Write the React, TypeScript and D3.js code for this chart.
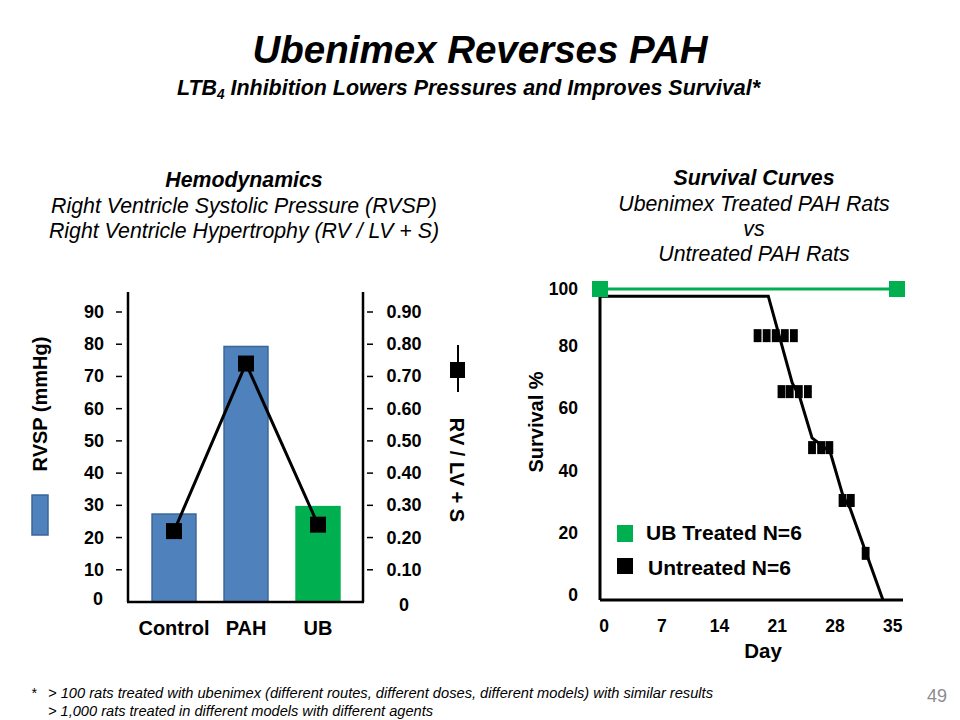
import React from "react";
import * as d3 from "d3";

// ---------- Data ----------
const categories = ["Control", "PAH", "UB"];
const rvspValues = [27.3, 79.3, 29.6]; // mmHg (bars)
const rvRatio = [0.22, 0.74, 0.24]; // RV / LV + S (squares)
const barColors = ["#4f81bd", "#4f81bd", "#00b050"];
const leftTicks = [0, 10, 20, 30, 40, 50, 60, 70, 80, 90];
const rightTicks = [0, 0.1, 0.2, 0.3, 0.4, 0.5, 0.6, 0.7, 0.8, 0.9];

const survivalTicksY = [0, 20, 40, 60, 80, 100];
const dayTicks = [0, 7, 14, 21, 28, 35];
const treatedDays = [0, 36];
const treatedSurvival = [100, 100];
const untreatedDays = [0, 0, 20.4, 23.3, 24.2, 25.7, 27.9, 29.5, 30.3, 34.3];
const untreatedSurvival = [0, 97.7, 97.7, 69.8, 65.3, 52.1, 47.6, 33.1, 29.6, 0];
// censor / death marker rows
const markerRowSurvival = [85, 67, 49, 32, 15];
const markerRowDays = [
  [19.1, 20.2, 21.3, 22.4, 23.5],
  [22.0, 23.0, 24.1, 25.2],
  [25.7, 26.8, 27.8],
  [29.4, 30.4],
  [32.2],
];

const GREEN = "#00b050";
const FONT = "'Liberation Sans', Arial, Helvetica, sans-serif";
const NARROW = "'Liberation Sans Narrow', 'Arial Narrow', 'Liberation Sans', sans-serif";

export default function App() {
  // ---- Left chart scales ----
  const xL = d3
    .scaleBand<string>()
    .domain(categories)
    .range([138, 354])
    .paddingInner(0.39)
    .paddingOuter(0.195);
  const yL = d3.scaleLinear().domain([0, 90]).range([602, 312]);
  const yR = d3.scaleLinear().domain([0, 0.9]).range([602, 312]);
  const axL = 128;
  const axR = 363;

  const ratioLine = d3
    .line<number>()
    .x((_, i) => (xL(categories[i]) as number) + xL.bandwidth() / 2)
    .y((d) => yR(d));

  // ---- Right chart scales ----
  const xS = d3.scaleLinear().domain([0, 36]).range([600, 897]);
  const yS = d3.scaleLinear().domain([0, 100]).range([600, 289]);
  const survLine = d3
    .line<number>()
    .x((_, i) => xS(untreatedDays[i]))
    .y((d) => yS(d));
  const treatedLine = d3
    .line<number>()
    .x((_, i) => xS(treatedDays[i]))
    .y((d) => yS(d));

  const markerW = xS(1.07) - xS(0) - 1;
  const markerH = 13;

  return (
    <svg
      width={960}
      height={720}
      style={{ position: "absolute", left: 0, top: 0, background: "#fff" }}
      fontFamily={FONT}
    >
      <rect x={0} y={0} width={960} height={720} fill="#fff" />
      {/* Titles */}
      <text x={480} y={63} textAnchor="middle" fontSize={38.5} fontWeight="bold" fontStyle="italic">
        Ubenimex Reverses PAH
      </text>
      <text
        x={177}
        y={95}
        fontSize={22}
        fontWeight="bold"
        fontStyle="italic"
        textLength={583}
        lengthAdjust="spacingAndGlyphs"
      >
        LTB
        <tspan fontSize={14} dy={4}>4</tspan>
        <tspan dy={-4}> Inhibition Lowers Pressures and Improves Survival*</tspan>
      </text>

      {/* Left headings */}
      <text x={244} y={187} textAnchor="middle" fontSize={21.3} fontWeight="bold" fontStyle="italic">
        Hemodynamics
      </text>
      <text x={244} y={213} textAnchor="middle" fontSize={21.3} fontStyle="italic">
        Right Ventricle Systolic Pressure (RVSP)
      </text>
      <text x={244} y={238} textAnchor="middle" fontSize={21.3} fontStyle="italic">
        Right Ventricle Hypertrophy (RV / LV + S)
      </text>

      {/* Right headings */}
      <text x={754} y={185} textAnchor="middle" fontSize={21.3} fontWeight="bold" fontStyle="italic">
        Survival Curves
      </text>
      <text x={754} y={211} textAnchor="middle" fontSize={21.3} fontStyle="italic">
        Ubenimex Treated PAH Rats
      </text>
      <text x={754} y={236} textAnchor="middle" fontSize={21.3} fontStyle="italic">
        vs
      </text>
      <text x={754} y={261} textAnchor="middle" fontSize={21.3} fontStyle="italic">
        Untreated PAH Rats
      </text>

      {/* ---------- Left chart ---------- */}
      {categories.map((c, i) => (
        <rect
          key={c}
          x={xL(c)}
          y={yL(rvspValues[i])}
          width={xL.bandwidth()}
          height={yL(0) - yL(rvspValues[i])}
          fill={barColors[i]}
          stroke={i === 2 ? GREEN : "#3c6696"}
          strokeWidth={1.5}
        />
      ))}
      {/* axes */}
      <line x1={axL} x2={axL} y1={yL(0)} y2={292} stroke="#000" strokeWidth={2.5} />
      <line x1={axR} x2={axR} y1={yL(0)} y2={292} stroke="#000" strokeWidth={2.5} />
      <line x1={axL - 1} x2={axR + 1} y1={yL(0)} y2={yL(0)} stroke="#000" strokeWidth={2.5} />
      {leftTicks.map((t) => (
        <g key={"lt" + t}>
          <text
            x={t === 0 ? 98 : 104}
            y={t === 0 ? yL(t) + 3 : yL(t) + 6}
            textAnchor={t === 0 ? "middle" : "end"}
            fontSize={18}
            fontWeight="bold"
          >
            {t}
          </text>
          {t !== 0 && (
            <line x1={116} x2={122} y1={yL(t)} y2={yL(t)} stroke="#000" strokeWidth={1.5} />
          )}
        </g>
      ))}
      {rightTicks.map((t) => (
        <g key={"rt" + t}>
          <text
            x={404}
            y={t === 0 ? yR(t) + 9 : yR(t) + 6}
            textAnchor="middle"
            fontSize={18}
            fontWeight="bold"
          >
            {t === 0 ? "0" : d3.format(".2f")(t)}
          </text>
          {t !== 0 && (
            <line x1={367} x2={373} y1={yR(t)} y2={yR(t)} stroke="#000" strokeWidth={1.5} />
          )}
        </g>
      ))}
      {/* ratio line + squares */}
      <path d={ratioLine(rvRatio) || ""} fill="none" stroke="#000" strokeWidth={3} />
      {rvRatio.map((v, i) => (
        <rect
          key={"sq" + i}
          x={(xL(categories[i]) as number) + xL.bandwidth() / 2 - 8}
          y={yR(v) - 8}
          width={16}
          height={16}
          fill="#000"
        />
      ))}
      {categories.map((c) => (
        <text
          key={"cl" + c}
          x={(xL(c) as number) + xL.bandwidth() / 2}
          y={635}
          textAnchor="middle"
          fontSize={20}
          fontWeight="bold"
        >
          {c}
        </text>
      ))}
      {/* left axis title + legend swatch */}
      <text
        transform="translate(47,404) rotate(-90)"
        textAnchor="middle"
        fontSize={20}
        fontWeight="bold"
      >
        RVSP (mmHg)
      </text>
      <rect x={32} y={495} width={16} height={40} fill="#4f81bd" stroke="#3c6696" strokeWidth={1.5} />
      {/* right axis title + legend marker */}
      <line x1={458} x2={458} y1={345} y2={392} stroke="#000" strokeWidth={2} />
      <rect x={450} y={362} width={15} height={16} fill="#000" />
      <text
        transform="translate(450,470) rotate(90)"
        textAnchor="middle"
        fontSize={20}
        fontWeight="bold"
      >
        RV / LV + S
      </text>

      {/* ---------- Right chart ---------- */}
      <line x1={xS(0)} x2={903} y1={yS(0)} y2={yS(0)} stroke="#000" strokeWidth={3} />
      <path d={survLine(untreatedSurvival) || ""} fill="none" stroke="#000" strokeWidth={3} />
      {markerRowSurvival.map((s, r) =>
        markerRowDays[r].map((d, k) => (
          <rect
            key={"m" + r + "_" + k}
            x={xS(d) - markerW / 2}
            y={yS(s) - markerH / 2}
            width={markerW}
            height={markerH}
            fill="#000"
          />
        ))
      )}
      <path d={treatedLine(treatedSurvival) || ""} fill="none" stroke={GREEN} strokeWidth={3} />
      {treatedDays.map((d, i) => (
        <rect
          key={"g" + i}
          x={xS(d) - 8}
          y={yS(treatedSurvival[i]) - 8}
          width={16}
          height={16}
          fill={GREEN}
        />
      ))}
      {survivalTicksY.map((t) => (
        <text
          key={"sy" + t}
          x={578}
          y={t === 100 ? yS(t) + 6 : yS(t) + 1}
          textAnchor="end"
          fontSize={17.5}
          fontWeight="bold"
        >
          {t}
        </text>
      ))}
      {dayTicks.map((t) => (
        <text
          key={"dx" + t}
          x={xS(t) + 4}
          y={632}
          textAnchor="middle"
          fontSize={17.5}
          fontWeight="bold"
        >
          {t}
        </text>
      ))}
      <text x={763} y={658} textAnchor="middle" fontSize={20.5} fontWeight="bold">
        Day
      </text>
      <text
        transform="translate(543,422) rotate(-90)"
        textAnchor="middle"
        fontSize={20}
        fontWeight="bold"
      >
        Survival %
      </text>
      {/* legend */}
      <rect x={617} y={525} width={16} height={17} fill={GREEN} />
      <text x={646} y={540} fontSize={21} fontWeight="bold">
        UB Treated N=6
      </text>
      <rect x={617} y={558} width={16} height={16} fill="#000" />
      <text x={648} y={575} fontSize={21} fontWeight="bold">
        Untreated N=6
      </text>

      {/* Footnote */}
      <text x={31} y={698} fontSize={14} fontStyle="italic">
        *
      </text>
      <text
        x={48}
        y={698}
        fontSize={14}
        fontStyle="italic"
        fontFamily={NARROW}
        textLength={665}
        lengthAdjust="spacingAndGlyphs"
      >
        {"> 100 rats treated with ubenimex (different routes, different doses, different models) with similar results"}
      </text>
      <text
        x={48}
        y={716}
        fontSize={14}
        fontStyle="italic"
        fontFamily={NARROW}
        textLength={385}
        lengthAdjust="spacingAndGlyphs"
      >
        {"> 1,000 rats treated in different models with different agents"}
      </text>
      <text x={937} y={702} textAnchor="middle" fontSize={18} fill="#8c8c8c" fontFamily={NARROW}>
        49
      </text>
    </svg>
  );
}
